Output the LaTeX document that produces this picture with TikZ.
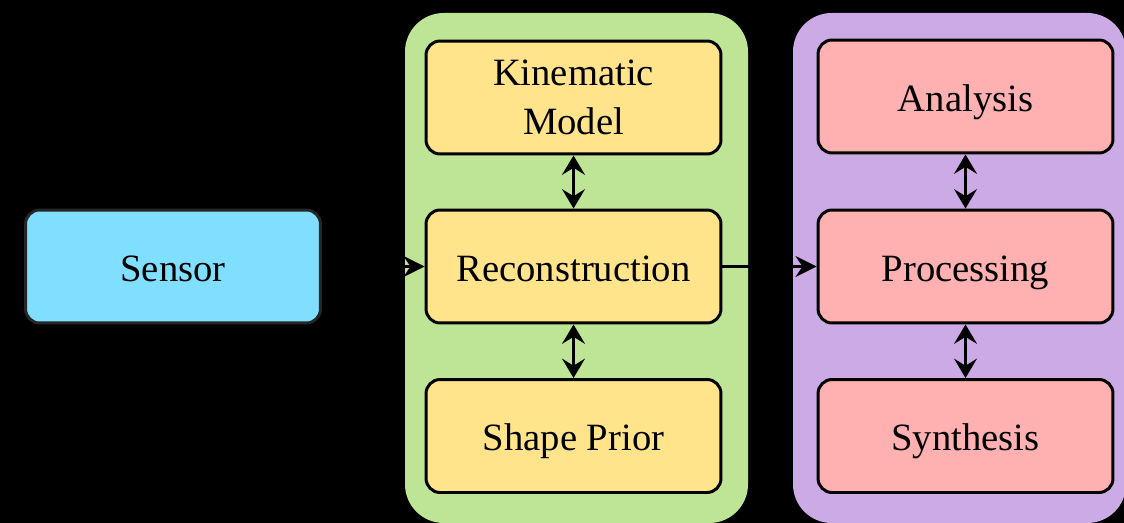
\documentclass[tikz,border=0pt]{standalone}
\usepackage{fontspec}
\setmainfont{Liberation Serif}
\usetikzlibrary{arrows.meta}
\definecolor{cyanfill}{RGB}{128,223,255}
\definecolor{greengrp}{RGB}{190,228,150}
\definecolor{yellowfill}{RGB}{255,228,140}
\definecolor{purplegrp}{RGB}{203,170,230}
\definecolor{pinkfill}{RGB}{255,176,176}
\tikzset{
  blk/.style={draw=black, line width=1.7pt, rounded corners=8pt, minimum width=5.9cm, minimum height=2.26cm, align=center, font=\fontsize{22}{27.5}\selectfont, inner sep=0pt},
  one/.style={text height=18pt, text depth=1pt},
  grp/.style={rounded corners=22pt, draw=none},
  flow/.style={-{Stealth[length=12pt,width=12pt,inset=4pt]}, line width=1.2pt},
  bidir/.style={{Stealth[length=11pt,width=13pt,inset=4pt]}-{Stealth[length=11pt,width=13pt,inset=4pt]}, line width=1.8pt}
}
\begin{document}
\begin{tikzpicture}[x=0.02cm,y=-0.02cm]
\fill[black] (0,0) rectangle (1124,523);
\useasboundingbox (0,0) rectangle (1124,523);
\fill[greengrp, grp] (405,13) rectangle (748,523);
\fill[purplegrp, grp] (793,13) rectangle (1126,523);
\node[blk, one, fill=cyanfill, draw=black!85] (sensor) at (173,266.5) {Sensor};
\node[blk, fill=yellowfill] (kin) at (573.5,97.5) {Kinematic\\Model};
\node[blk, one, fill=yellowfill] (rec) at (573.5,266.5) {Reconstruction};
\node[blk, one, fill=yellowfill] (shape) at (573.5,436) {Shape Prior};
\node[blk, one, fill=pinkfill] (ana) at (965.5,96.5) {Analysis};
\node[blk, one, fill=pinkfill] (proc) at (965.5,266.5) {Processing};
\node[blk, one, fill=pinkfill] (syn) at (965.5,436) {Synthesis};
\draw[flow] (sensor) -- (rec);
\draw[flow] (rec) -- (proc);
\draw[bidir] (kin) -- (rec);
\draw[bidir] (rec) -- (shape);
\draw[bidir] (ana) -- (proc);
\draw[bidir] (proc) -- (syn);
\end{tikzpicture}
\end{document}
